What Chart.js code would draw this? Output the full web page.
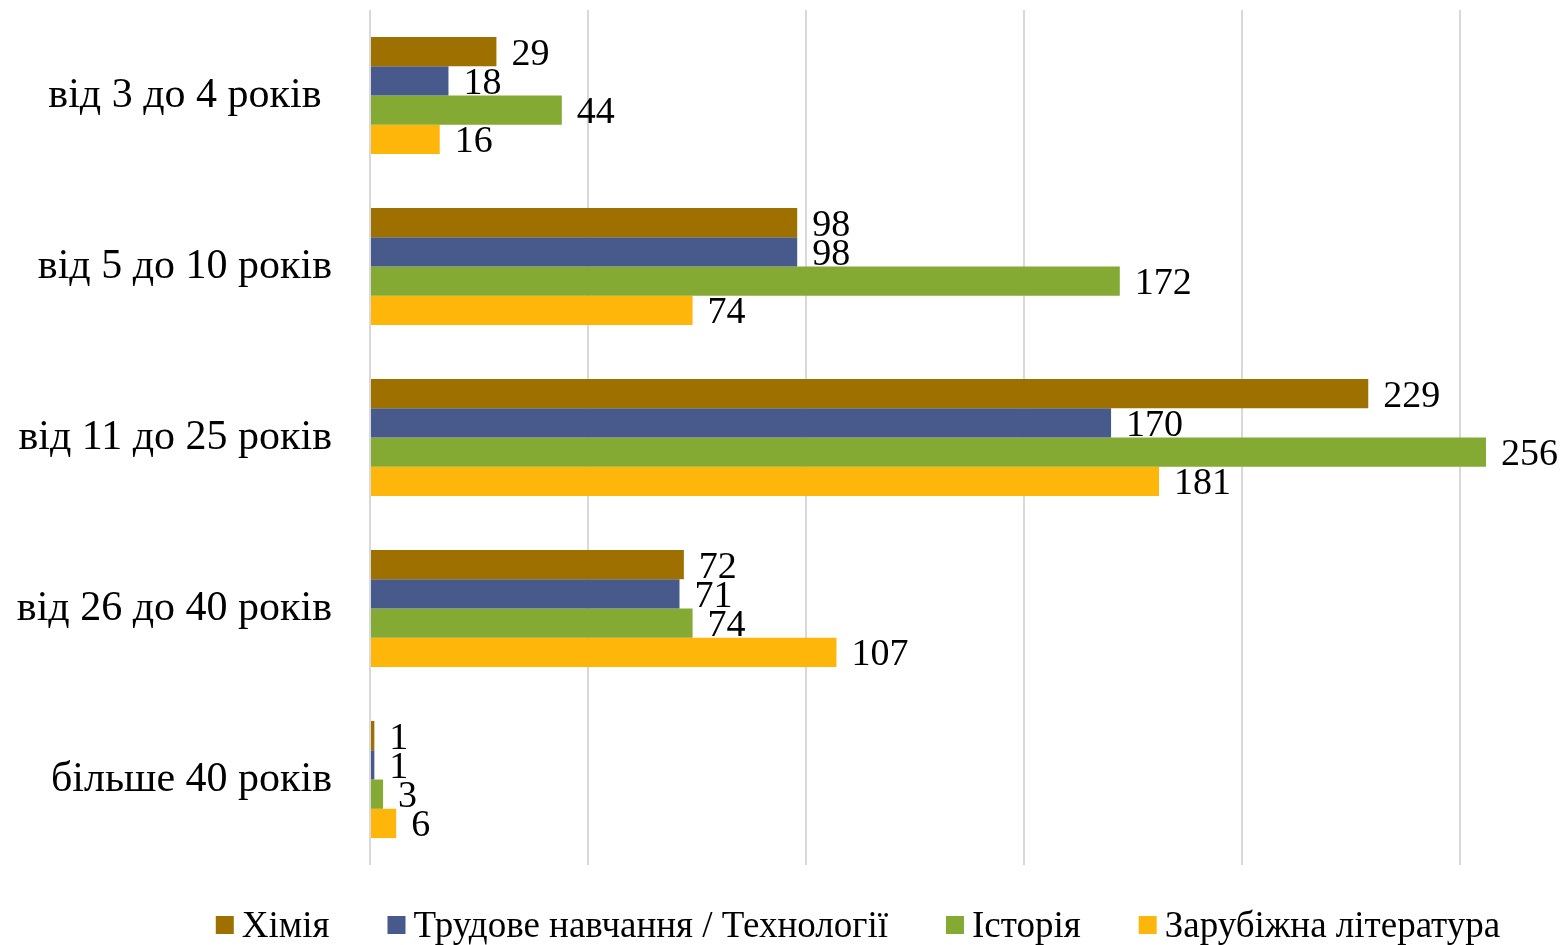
<!DOCTYPE html>
<html>
<head>
<meta charset="utf-8">
<script src="https://cdn.jsdelivr.net/npm/chart.js@4"></script>
<style>
  html, body { margin: 0; padding: 0; background: #fff; }
  #wrap { width: 1563px; height: 945px; position: relative; }
</style>
</head>
<body>
<div id="wrap"><canvas id="chart"></canvas></div>
<script>
const categories = ['від 3 до 4 років ', 'від 5 до 10 років', 'від 11 до 25 років', 'від 26 до 40 років', 'більше 40 років'];
const seriesNames = ['Хімія', 'Трудове навчання / Технології', 'Історія', 'Зарубіжна література'];
const chemistry = [29, 98, 229, 72, 1];
const labour = [18, 98, 170, 71, 1];
const history = [44, 172, 256, 74, 3];
const literature = [16, 74, 181, 107, 6];
const colors = ['#9E7000', '#475A8B', '#84AA34', '#FFB60B'];
const axisMax = 270;
const tickStep = 50;

const serif = "'Liberation Serif', 'Times New Roman', serif";

// value labels at the end of each bar
const valueLabels = {
    id: 'valueLabels',
    afterDatasetsDraw(chart) {
        const ctx = chart.ctx;
        ctx.save();
        ctx.font = '38px ' + serif;
        ctx.fillStyle = '#000';
        ctx.textAlign = 'left';
        ctx.textBaseline = 'middle';
        chart.data.datasets.forEach((ds, i) => {
            chart.getDatasetMeta(i).data.forEach((bar, j) => {
                ctx.fillText(ds.data[j], bar.x + 15, bar.y + 3);
            });
        });
        ctx.restore();
    }
};

// legend row under the plot
const bottomLegend = {
    id: 'bottomLegend',
    afterDraw(chart) {
        const ctx = chart.ctx;
        ctx.save();
        ctx.font = '37px ' + serif;
        ctx.textBaseline = 'middle';
        const box = 18, gapText = 8, gapItem = 58;
        const items = chart.data.datasets.map(ds => ({
            text: ds.label, color: ds.backgroundColor, w: ctx.measureText(ds.label).width
        }));
        let total = 0;
        items.forEach((it, i) => { total += box + gapText + it.w + (i ? gapItem : 0); });
        let x = 858 - total / 2;
        const y = 925;
        items.forEach(it => {
            ctx.fillStyle = it.color;
            ctx.fillRect(x, y - box / 2, box, box);
            ctx.fillStyle = '#000';
            ctx.fillText(it.text, x + box + gapText, y + 2);
            x += box + gapText + it.w + gapItem;
        });
        ctx.restore();
    }
};

const ctx = document.getElementById('chart').getContext('2d');
new Chart(ctx, {
    type: 'bar',
    data: {
        labels: categories,
        datasets: [chemistry, labour, history, literature].map((d, i) => ({
            label: seriesNames[i],
            data: d,
            backgroundColor: colors[i],
            borderWidth: 0,
            categoryPercentage: 0.685,
            barPercentage: 1
        }))
    },
    options: {
        indexAxis: 'y',
        responsive: true,
        maintainAspectRatio: false,
        animation: false,
        layout: { padding: { top: 10, right: 16, bottom: 80, left: 0 } },
        plugins: {
            legend: { display: false },
            tooltip: { enabled: false }
        },
        scales: {
            x: {
                min: 0,
                max: axisMax,
                ticks: { display: false, stepSize: tickStep },
                afterBuildTicks: (scale) => {
                    scale.ticks = scale.ticks.filter(t => t.value % tickStep === 0);
                },
                afterFit: (scale) => { scale.height = 0; scale.paddingLeft = 0; scale.paddingRight = 0; },
                grid: { color: '#d9d9d9', lineWidth: 2, drawTicks: false },
                border: { display: false }
            },
            y: {
                afterFit: (scale) => { scale.width = 370; scale.paddingTop = 0; scale.paddingBottom = 0; },
                ticks: {
                    color: '#000',
                    font: { family: serif, size: 42 },
                    padding: 38
                },
                grid: { display: false, drawTicks: false },
                border: { display: false }
            }
        }
    },
    plugins: [valueLabels, bottomLegend]
});
</script>
</body>
</html>
